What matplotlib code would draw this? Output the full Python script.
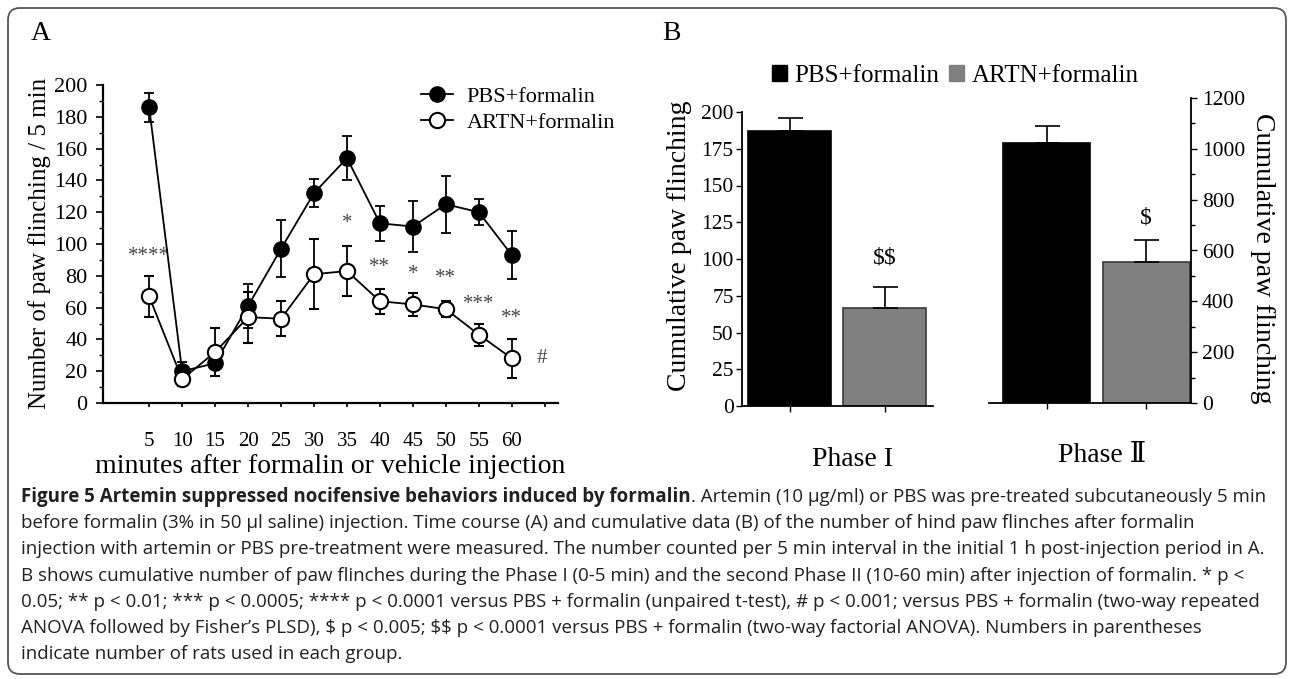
import matplotlib
matplotlib.use("Agg")
import matplotlib.pyplot as plt
from matplotlib.lines import Line2D
from matplotlib.patches import Patch, FancyBboxPatch
from matplotlib.transforms import IdentityTransform

plt.rcParams['font.family'] = ['Liberation Serif', 'DejaVu Serif', 'DejaVu Sans', 'Noto Sans CJK JP']

# ---- data (panel A, time course) ----
minutes = [5, 10, 15, 20, 25, 30, 35, 40, 45, 50, 55, 60]
pbs_mean = [186, 20, 25, 61, 97, 132, 154, 113, 111, 125, 120, 93]
pbs_err = [9, 6, 8, 14, 18, 9, 14, 11, 16, 18, 8, 15]
artn_mean = [67, 15, 32, 54, 53, 81, 83, 64, 62, 59, 43, 28]
artn_err = [13, 4, 15, 16, 11, 22, 16, 8, 7, 5, 7, 12]

# significance marks: (minute, height, text)
star_x = [5, 35, 40, 45, 50, 55, 60, 64.6]
star_y = [92, 113, 85, 81, 78, 62, 53, 28]
star_txt = ['****', '*', '**', '*', '**', '***', '**', '#']

# ---- data (panel B, cumulative) ----
groups = ['PBS+formalin', 'ARTN+formalin']
phase1_mean = [187, 67]
phase1_err = [9, 14]
phase2_mean = [1023, 555]
phase2_err = [67, 85]
phase1_sig = (1, 101, '$$')
phase2_sig = (1, 728, '$')

bar_colors = ['#000000', '#808080']
bar_edges = ['#000000', '#3a3a3a']

caption_bold = "Figure 5 Artemin suppressed nocifensive behaviors induced by formalin"
caption_lines = [
    ". Artemin (10 \u03bcg/ml) or PBS was pre-treated subcutaneously 5 min",
    "before formalin (3% in 50 \u03bcl saline) injection. Time course (A) and cumulative data (B) of the number of hind paw flinches after formalin",
    "injection with artemin or PBS pre-treatment were measured. The number counted per 5 min interval in the initial 1 h post-injection period in A.",
    "B shows cumulative number of paw flinches during the Phase I (0-5 min) and the second Phase II (10-60 min) after injection of formalin. * p <",
    "0.05; ** p < 0.01; *** p < 0.0005; **** p < 0.0001 versus PBS + formalin (unpaired t-test), # p < 0.001; versus PBS + formalin (two-way repeated",
    "ANOVA followed by Fisher\u2019s PLSD), $ p < 0.005; $$ p < 0.0001 versus PBS + formalin (two-way factorial ANOVA). Numbers in parentheses",
    "indicate number of rats used in each group.",
]

W, H = 1290, 679
fig = plt.figure(figsize=(W / 100, H / 100), dpi=100)


def box(l, r, t, b):
    return [l / W, 1 - b / H, (r - l) / W, (b - t) / H]


# border
fig.patches.append(FancyBboxPatch((8, 5), 1278, 666, boxstyle='round,pad=0,rounding_size=12',
                                  transform=IdentityTransform(), fc='none', ec='#555555', lw=1.3))

fig.text(31 / W, 1 - 34 / H, 'A', fontsize=20, va='center')
fig.text(662 / W, 1 - 34 / H, 'B', fontsize=20, va='center')

# ================= panel A =================
ax = fig.add_axes(box(103, 558, 85, 403))
ax.errorbar(minutes, pbs_mean, yerr=pbs_err, color='black', lw=1.3, capsize=3.5, capthick=1.3,
            elinewidth=1.3, marker='o', ms=11, mfc='black', mec='black', zorder=3)
ax.errorbar(minutes, artn_mean, yerr=artn_err, color='black', lw=1.3, capsize=3.5, capthick=1.3,
            elinewidth=1.3, marker='o', ms=11, mfc='white', mec='black', mew=1.5, zorder=4)
for x, y, s in zip(star_x, star_y, star_txt):
    ax.text(x, y, s, fontsize=15, ha='center', va='center', color='#444444')

ax.set_xlim(-2, 67)
ax.set_ylim(0, 200)
ax.set_xticks(minutes + [65])
ax.set_xticklabels([str(m) for m in minutes] + [''])
ax.set_yticks(range(0, 201, 20))
ax.set_yticks(range(10, 200, 20), minor=True)
for s in ['top', 'right']:
    ax.spines[s].set_visible(False)
for s in ['left', 'bottom']:
    ax.spines[s].set_linewidth(1.6)
ax.tick_params(axis='x', direction='out', length=3, width=1.2, labelsize=15, pad=18)
ax.tick_params(axis='y', which='major', direction='out', length=5, width=1.2, labelsize=16, pad=6)
ax.tick_params(axis='y', which='minor', direction='out', length=3, width=1.0)
ax.set_xlabel('minutes after formalin or vehicle injection', fontsize=20, labelpad=2)
fig.text(40 / W, 1 - 243 / H, 'Number of paw flinching / 5 min', fontsize=18,
         rotation=90, ha='center', va='center')

handles_a = [Line2D([], [], color='black', lw=1.3, marker='o', ms=11, mfc='black', mec='black'),
             Line2D([], [], color='black', lw=1.3, marker='o', ms=11, mfc='white', mec='black', mew=1.5)]
fig.legend(handles_a, groups, loc='upper left', bbox_to_anchor=(410 / W, 1 - 75 / H),
           frameon=False, fontsize=16, handlelength=1.45, handletextpad=0.6, labelspacing=0.25,
           borderpad=0)

# ================= panel B (left, phase I) =================
x2 = [0, 1]
bl = fig.add_axes(box(742, 933, 112, 406))
bl.bar(x2, phase1_mean, width=0.874, color=bar_colors, edgecolor=bar_edges, lw=1.2)
bl.errorbar(x2, phase1_mean, yerr=[[0, 0], phase1_err], fmt='none', ecolor='black',
            elinewidth=1.2, capsize=9, capthick=1.2)
bl.text(phase1_sig[0], phase1_sig[1], phase1_sig[2], fontsize=17, ha='center', va='center',
        parse_math=False)
bl.set_xlim(-0.5, 1.51)
bl.set_ylim(0, 200)
bl.set_yticks(range(0, 201, 25))
bl.set_xticks(x2)
bl.set_xticklabels([])
for s in ['top', 'right']:
    bl.spines[s].set_visible(False)
for s in ['left', 'bottom']:
    bl.spines[s].set_linewidth(1.3)
bl.tick_params(axis='x', direction='out', length=4, width=1.0)
bl.tick_params(axis='y', direction='out', length=4, width=1.0, labelsize=15.5, pad=2)
fig.text(679 / W, 1 - 246 / H, 'Cumulative paw flinching', fontsize=20, rotation=90,
         ha='center', va='center')

# ================= panel B (right, phase II) =================
br = fig.add_axes(box(989, 1191, 98, 403))
br.bar(x2, phase2_mean, width=0.87, color=bar_colors, edgecolor=bar_edges, lw=1.2)
br.errorbar(x2, phase2_mean, yerr=[[0, 0], phase2_err], fmt='none', ecolor='black',
            elinewidth=1.2, capsize=9, capthick=1.2)
br.text(phase2_sig[0], phase2_sig[1], phase2_sig[2], fontsize=17, ha='center', va='center',
        parse_math=False)
br.set_xlim(-0.578, 1.45)
br.set_ylim(0, 1200)
br.set_yticks(range(0, 1201, 200))
br.set_yticks(range(100, 1200, 200), minor=True)
br.set_xticks(x2)
br.set_xticklabels([])
br.yaxis.tick_right()
for s in ['top', 'left']:
    br.spines[s].set_visible(False)
for s in ['right', 'bottom']:
    br.spines[s].set_linewidth(1.3)
br.tick_params(axis='x', direction='out', length=4, width=1.0)
br.tick_params(axis='y', which='major', direction='out', length=4, width=1.0, labelsize=15.5, pad=4)
br.tick_params(axis='y', which='minor', direction='out', length=3, width=1.0)
fig.text(1263 / W, 1 - 258 / H, 'Cumulative paw flinching', fontsize=20, rotation=270,
         ha='center', va='center')

fig.text(852 / W, 1 - 460 / H, 'Phase I', fontsize=20, ha='center', va='center')
fig.text(1102 / W, 1 - 455 / H, 'Phase \u2161', fontsize=20, ha='center', va='center')

handles_b = [Patch(fc=c, ec=c) for c in bar_colors]
fig.legend(handles_b, groups, loc='center', bbox_to_anchor=(955 / W, 1 - 76 / H), ncol=2,
           frameon=False, fontsize=18, handlelength=0.6, handleheight=0.6, handletextpad=0.3,
           columnspacing=0.4, borderpad=0)

# ================= caption =================
cap_kw = dict(fontsize=13.5, family=['Open Sans', 'DejaVu Sans'], color='#231f20', va='center',
              parse_math=False)
y0 = 497
t = fig.text(21 / W, 1 - y0 / H, caption_bold, fontweight='bold', **cap_kw)
fig.canvas.draw()
bb = t.get_window_extent()
fig.text(bb.x1 / W, 1 - y0 / H, caption_lines[0], **cap_kw)
for i, line in enumerate(caption_lines[1:], start=1):
    fig.text(21 / W, 1 - (y0 + 26.2 * i) / H, line, **cap_kw)

fig.savefig('out.png', dpi=100)
